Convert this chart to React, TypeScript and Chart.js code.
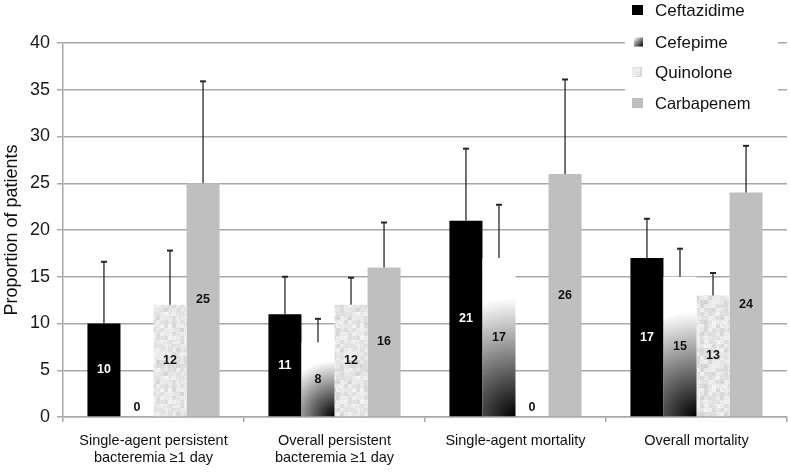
import React, { useEffect, useRef } from "react";
import { Chart, registerables } from "chart.js";

Chart.register(...registerables);

const categories: string[][] = [
  ["Single-agent persistent", "bacteremia ≥1 day"],
  ["Overall persistent", "bacteremia ≥1 day"],
  ["Single-agent mortality"],
  ["Overall mortality"],
];
const seriesNames = ["Ceftazidime", "Cefepime", "Quinolone", "Carbapenem"];
const ceftazidime = [10, 11, 21, 17];
const cefepime = [0, 8, 17, 15];
const quinolone = [12, 12, 0, 13];
const carbapenem = [25, 16, 26, 24];
const ceftazidimeUpper: (number | null)[] = [16.6, 15.0, 28.7, 21.2];
const cefepimeUpper: (number | null)[] = [null, 10.5, 22.7, 18.0];
const quinoloneUpper: (number | null)[] = [17.8, 14.9, null, 15.4];
const carbapenemUpper: (number | null)[] = [35.9, 20.8, 36.1, 29.0];
const yMin = 0;
const yMax = 40;
const yStep = 5;
const yTitle = "Proportion of patients";

const FONT = "'Liberation Sans', Arial, sans-serif";
const GRID = "#a8a8a8";

function makeSpeckle(): CanvasPattern | string {
  const size = 64;
  const c = document.createElement("canvas");
  c.width = size;
  c.height = size;
  const g = c.getContext("2d");
  if (!g) return "#e4e4e4";
  const img = g.createImageData(size, size);
  const hash = (x: number, y: number) => {
    let h = (Math.imul(x, 374761393) + Math.imul(y, 668265263)) | 0;
    h = Math.imul(h ^ (h >>> 13), 1274126177);
    h = h ^ (h >>> 16);
    return (h & 1023) / 1023;
  };
  for (let y = 0; y < size; y++) {
    for (let x = 0; x < size; x++) {
      const coarse = hash(x >> 2, y >> 2);
      const fine = hash(x, y);
      const v = Math.round(205 + coarse * 30 + fine * 16);
      const i = (y * size + x) * 4;
      img.data[i] = v;
      img.data[i + 1] = v;
      img.data[i + 2] = v;
      img.data[i + 3] = 255;
    }
  }
  g.putImageData(img, 0, 0);
  const ctx = document.createElement("canvas").getContext("2d");
  return (ctx && ctx.createPattern(c, "repeat")) || "#e4e4e4";
}

export default function App() {
  const ref = useRef<HTMLCanvasElement | null>(null);

  useEffect(() => {
    const canvas = ref.current;
    if (!canvas) return;
    const speckle = makeSpeckle();
    const uppers = [ceftazidimeUpper, cefepimeUpper, quinoloneUpper, carbapenemUpper];
    const labelColors = ["#ffffff", "#111111", "#111111", "#111111"];

    const overlay = {
      id: "overlay",
      afterDatasetsDraw(chart: any) {
        const ctx = chart.ctx as CanvasRenderingContext2D;
        const yScale = chart.scales.y;
        const metaCef = chart.getDatasetMeta(1);
        metaCef.data.forEach((bar: any) => {
          const left = bar.x - bar.width / 2;
          const right = bar.x + bar.width / 2;
          const top = bar.y;
          const bottom = bar.base;
          const h = bottom - top;
          if (h <= 0.5) return;
          const r = Math.max(h * 0.75, 20);
          const grad = ctx.createRadialGradient(right, bottom, 0, right, bottom, r);
          grad.addColorStop(0, "#000000");
          grad.addColorStop(1, "#ffffff");
          ctx.save();
          ctx.fillStyle = grad;
          ctx.fillRect(left, top, right - left, h);
          ctx.restore();
        });
        ctx.save();
        ctx.strokeStyle = "#262626";
        for (let d = 0; d < 4; d++) {
          const meta = chart.getDatasetMeta(d);
          meta.data.forEach((bar: any, i: number) => {
            const up = uppers[d][i];
            if (up === null || up === undefined) return;
            const y1 = yScale.getPixelForValue(up);
            ctx.lineWidth = 1.3;
            ctx.beginPath();
            ctx.moveTo(bar.x, bar.y);
            ctx.lineTo(bar.x, y1);
            ctx.stroke();
            ctx.lineWidth = 2;
            ctx.beginPath();
            ctx.moveTo(bar.x - 3, y1);
            ctx.lineTo(bar.x + 3, y1);
            ctx.stroke();
          });
        }
        ctx.restore();
        ctx.save();
        ctx.font = `bold 12.5px ${FONT}`;
        ctx.textAlign = "center";
        ctx.textBaseline = "middle";
        for (let d = 0; d < 4; d++) {
          const meta = chart.getDatasetMeta(d);
          const values = chart.data.datasets[d].data as number[];
          meta.data.forEach((bar: any, i: number) => {
            const v = values[i];
            let y = (bar.y + bar.base) / 2;
            if (v === 0) {
              y = bar.base - 9;
              ctx.fillStyle = "#111111";
            } else {
              ctx.fillStyle = labelColors[d];
            }
            ctx.fillText(String(v), bar.x, y);
          });
        }
        ctx.restore();
      },
      afterDraw(chart: any) {
        const ctx = chart.ctx as CanvasRenderingContext2D;
        ctx.save();
        ctx.fillStyle = "#ffffff";
        ctx.fillRect(625, 0, 153, 114);
        const rows = [10, 42, 72, 103];
        const sw = [
          { x: 632, w: 11, h: 10 },
          { x: 634, w: 9, h: 9 },
          { x: 632, w: 10, h: 10 },
          { x: 632, w: 11, h: 10 },
        ];
        for (let i = 0; i < 4; i++) {
          const cy = rows[i];
          const s = sw[i];
          const top = cy - s.h / 2;
          if (i === 0) ctx.fillStyle = "#000000";
          else if (i === 1) {
            const g = ctx.createLinearGradient(s.x, top, s.x + s.w, top + s.h);
            g.addColorStop(0, "#ffffff");
            g.addColorStop(1, "#000000");
            ctx.fillStyle = g;
          } else if (i === 2) ctx.fillStyle = speckle as any;
          else ctx.fillStyle = "#bfbfbf";
          ctx.fillRect(s.x, top, s.w, s.h);
          ctx.fillStyle = "#111111";
          ctx.font = `${i === 3 ? 16.5 : 17}px ${FONT}`;
          ctx.textAlign = "left";
          ctx.textBaseline = "middle";
          ctx.fillText(seriesNames[i], 655, cy + 1);
        }
        ctx.restore();
      },
    };

    const chart = new Chart(canvas, {
      type: "bar",
      data: {
        labels: categories as any,
        datasets: [
          { label: seriesNames[0], data: ceftazidime, backgroundColor: "#000000" },
          { label: seriesNames[1], data: cefepime, backgroundColor: "rgba(0,0,0,0)" },
          { label: seriesNames[2], data: quinolone, backgroundColor: speckle as any },
          { label: seriesNames[3], data: carbapenem, backgroundColor: "#bfbfbf" },
        ],
      },
      options: {
        responsive: false,
        animation: false,
        events: [],
        layout: { padding: { top: 43, right: 3, left: 0, bottom: 0 } },
        datasets: { bar: { categoryPercentage: 0.73, barPercentage: 1.0 } },
        plugins: {
          legend: { display: false },
          tooltip: { enabled: false },
        },
        scales: {
          x: {
            offset: true,
            grid: {
              display: true,
              offset: true,
              drawOnChartArea: false,
              drawTicks: true,
              tickLength: 5,
              color: GRID,
              lineWidth: 1.5,
            },
            border: { display: true, color: GRID, width: 1.5 },
            ticks: {
              font: { family: FONT, size: 14.5, lineHeight: 1.2 },
              color: "#111111",
              padding: 10,
              maxRotation: 0,
              autoSkip: false,
            },
            afterFit: (scale: any) => {
              scale.height = 55;
            },
          },
          y: {
            min: yMin,
            max: yMax,
            ticks: {
              stepSize: yStep,
              font: { family: FONT, size: 18 },
              color: "#1a1a1a",
              padding: 7,
            },
            grid: { color: GRID, lineWidth: 1.5, tickLength: 6 },
            border: { display: true, color: GRID, width: 1.5 },
            title: {
              display: true,
              text: yTitle,
              font: { family: FONT, size: 18 },
              color: "#111111",
              padding: { top: 1, bottom: 0 },
            },
            afterFit: (scale: any) => {
              scale.width = 63;
            },
          },
        },
      },
      plugins: [overlay],
    });
    return () => chart.destroy();
  }, []);

  return (
    <div style={{ position: "fixed", left: 0, top: 0, width: 790, height: 472, background: "#fff" }}>
      <canvas ref={ref} width={790} height={472} style={{ display: "block", width: 790, height: 472 }} />
    </div>
  );
}
